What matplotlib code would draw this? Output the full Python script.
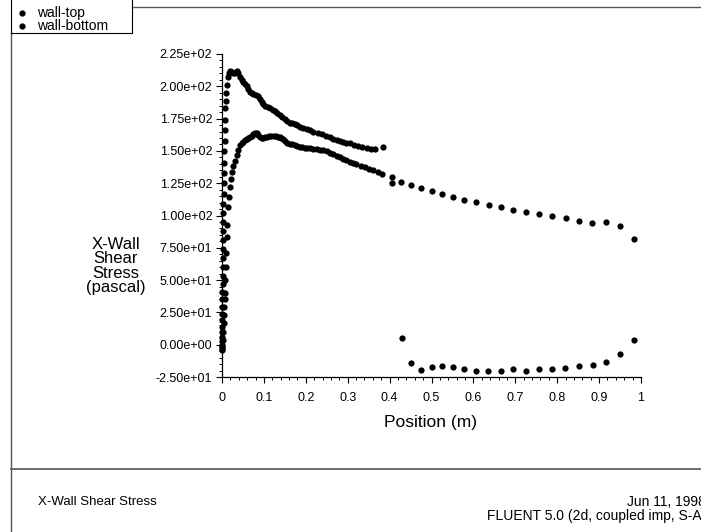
import matplotlib
matplotlib.use("Agg")
import matplotlib.pyplot as plt
from matplotlib.lines import Line2D
from matplotlib.ticker import MultipleLocator, FormatStrFormatter

plt.rcParams['font.family'] = ['Liberation Sans', 'DejaVu Sans']

# ---- data ----
series_names = ["wall-top", "wall-bottom"]

top_x = [0.000, 0.000, 0.000, 0.000, 0.000, 0.001, 0.001, 0.001, 0.001, 0.001,
         0.001, 0.001, 0.002, 0.002, 0.002, 0.002, 0.002, 0.002, 0.003, 0.003,
         0.003, 0.003, 0.004, 0.004, 0.004, 0.005, 0.005, 0.006, 0.006, 0.007,
         0.008, 0.009, 0.010, 0.012, 0.014,
         0.017, 0.020, 0.023, 0.027, 0.031, 0.035, 0.039, 0.043, 0.047, 0.051,
         0.055, 0.059, 0.063, 0.067, 0.071, 0.075, 0.081, 0.087, 0.091, 0.095,
         0.099, 0.103, 0.109, 0.115, 0.121, 0.126, 0.132, 0.138, 0.144, 0.150,
         0.156, 0.162, 0.168, 0.174, 0.180, 0.186, 0.194, 0.202, 0.210, 0.218,
         0.228, 0.238, 0.248, 0.258, 0.266, 0.274, 0.282, 0.289, 0.297, 0.305,
         0.315, 0.325, 0.335, 0.345, 0.355, 0.365, 0.385,
         0.429, 0.450, 0.475, 0.500, 0.525, 0.551, 0.578, 0.607, 0.636, 0.666,
         0.695, 0.726, 0.757, 0.788, 0.819, 0.851, 0.885, 0.916, 0.950, 0.983]
top_y = [-4, -2, 0, 3, 6, 10, 14, 19, 24, 29,
         35, 41, 47, 53, 60, 67, 74, 81, 88, 95,
         102, 109, 117, 125, 133, 141, 150, 158, 166, 174,
         183, 189, 195, 201, 207,
         210.5, 211.5, 211, 210, 210.5, 212, 210, 207, 205, 203.6,
         202, 200, 198, 195.8, 194.5, 193.7, 193, 192.5, 190, 188,
         186, 184.8, 184, 183, 182, 181, 179.5, 177.8, 176, 174.4,
         173, 171.8, 171.3, 170.8, 169.8, 168.7, 167.8, 166.9, 165.9, 164.9,
         164, 163, 161.8, 160.5, 159.5, 158.4, 157.8, 157.1, 156.5, 155.8,
         154.8, 153.8, 153, 152, 151.5, 151.2, 153.2,
         5.4, -14.2, -19.3, -17.3, -16.5, -17.3, -18.8, -20.1, -20.1, -20.1,
         -19, -20.1, -19, -18.6, -17.8, -16.5, -15.5, -13.4, -7, 3.4]

bot_x = [0.000, 0.001, 0.002, 0.003, 0.004, 0.005, 0.005, 0.006, 0.007, 0.008,
         0.009, 0.010, 0.011, 0.013, 0.015, 0.017, 0.019, 0.021, 0.024, 0.027,
         0.031, 0.035, 0.039, 0.043, 0.047, 0.051, 0.055, 0.059, 0.063, 0.067,
         0.071, 0.075, 0.079, 0.083, 0.087, 0.091, 0.095, 0.099, 0.103, 0.107,
         0.111, 0.117, 0.123, 0.128, 0.134, 0.138, 0.142, 0.146, 0.150, 0.156,
         0.162, 0.168, 0.174, 0.180, 0.186, 0.192, 0.198, 0.204, 0.210, 0.218,
         0.226, 0.234, 0.242, 0.250, 0.258, 0.266, 0.274, 0.282, 0.289, 0.297,
         0.305, 0.313, 0.321, 0.331, 0.341, 0.351, 0.361, 0.372, 0.383, 0.405,
         0.405, 0.427, 0.450, 0.475, 0.500, 0.524, 0.552, 0.578, 0.607, 0.637,
         0.666, 0.695, 0.726, 0.757, 0.788, 0.820, 0.851, 0.884, 0.916, 0.950,
         0.983]
bot_y = [-3, -1, 3.6, 10, 16.6, 23, 29.4, 35, 40, 50,
         60, 70.7, 83.6, 92.6, 106.8, 114.6, 122.3, 128, 134, 138,
         142, 147, 151, 154.6, 156, 157.1, 158.5, 159.5, 159.8, 160.5,
         161.5, 163, 164, 163.5, 162.3, 161, 159.8, 160, 160.5, 161,
         161.5, 161.5, 161.5, 161.2, 161, 160.5, 159.8, 159, 158, 156.5,
         155.3, 155, 154.6, 154, 153.3, 153, 152.5, 152.2, 152, 151.6,
         151.2, 151, 150.7, 149.8, 148.6, 147.5, 146, 145, 144, 142.8,
         141.6, 140.8, 139.9, 138.6, 137.3, 136.2, 135.2, 134, 132.5, 129.6,
         125.4, 126.2, 123.8, 121.3, 118.7, 116.6, 114.5, 112.2, 110.2, 108.1,
         106.6, 104.3, 102.9, 100.9, 99.4, 97.8, 95.7, 94.4, 95, 92.1,
         81.8]

x_ticks = [0, 0.1, 0.2, 0.3, 0.4, 0.5, 0.6, 0.7, 0.8, 0.9, 1.0]
x_ticklabels = ['0', '0.1', '0.2', '0.3', '0.4', '0.5', '0.6', '0.7', '0.8', '0.9', '1']
x_label = "Position (m)"
y_label = "X-Wall\nShear\nStress\n(pascal)"
title_left = "X-Wall Shear Stress"
date_text = "Jun 11, 1998"
solver_text = "FLUENT 5.0 (2d, coupled imp, S-A)"

# ---- figure ----
W, H = 701, 532
fig = plt.figure(figsize=(W / 100, H / 100), dpi=100)

def fx(px):
    return px / W

def fy(py):
    return 1 - py / H

ax_l, ax_r, ax_t, ax_b = 222, 641, 54, 377
ax = fig.add_axes([fx(ax_l), fy(ax_b), (ax_r - ax_l) / W, (ax_b - ax_t) / H])
ax.plot(top_x, top_y, 'o', color='black', markersize=4.5, markeredgewidth=0, clip_on=False)
ax.plot(bot_x, bot_y, 'o', color='black', markersize=4.5, markeredgewidth=0, clip_on=False)

ax.set_xlim(0, 1)
ax.set_ylim(-25, 225)
for s in ['top', 'right']:
    ax.spines[s].set_visible(False)
for s in ['left', 'bottom']:
    ax.spines[s].set_linewidth(0.9)
ax.xaxis.set_minor_locator(MultipleLocator(0.02))
ax.yaxis.set_major_locator(MultipleLocator(25))
ax.yaxis.set_minor_locator(MultipleLocator(5))
ax.yaxis.set_major_formatter(FormatStrFormatter('%.2e'))
ax.set_xticks(x_ticks)
ax.set_xticklabels(x_ticklabels)
ax.tick_params(which='major', length=4, width=0.8, labelsize=9)
ax.tick_params(axis='x', which='major', pad=7)
ax.tick_params(axis='y', which='major', pad=3)
ax.tick_params(which='minor', length=2, width=0.7)

fig.text(fx(431), fy(422), x_label, ha='center', va='center', fontsize=12.5)
fig.text(fx(116), fy(266), y_label, ha='center', va='center', fontsize=12,
         multialignment='center', linespacing=0.92)

# frame lines
frame_col = '#555555'
fig.add_artist(Line2D([fx(132), fx(701)], [fy(7), fy(7)], color=frame_col, lw=1.0))
fig.add_artist(Line2D([fx(11), fx(11)], [fy(33), fy(532)], color=frame_col, lw=1.0))
fig.add_artist(Line2D([fx(11), fx(701)], [fy(469), fy(469)], color=frame_col, lw=1.2))

# legend box
fig.add_artist(Line2D([fx(11), fx(132), fx(132)], [fy(33), fy(33), fy(0)], color='black', lw=0.8))
fig.add_artist(Line2D([fx(11), fx(11)], [fy(0), fy(33)], color='black', lw=0.8))
for i, name in enumerate(series_names):
    yy = 13 + i * 13
    fig.add_artist(Line2D([fx(22)], [fy(yy)], marker='o', color='black', markersize=4.5, markeredgewidth=0))
    fig.text(fx(37), fy(yy), name, ha='left', va='center', fontsize=10)

# footer texts
fig.text(fx(38), fy(502), title_left, ha='left', va='center', fontsize=9.5)
fig.text(fx(706), fy(502), date_text, ha='right', va='center', fontsize=10)
fig.text(fx(706), fy(516), solver_text, ha='right', va='center', fontsize=10)

fig.savefig("out.png", dpi=100, facecolor='white')
